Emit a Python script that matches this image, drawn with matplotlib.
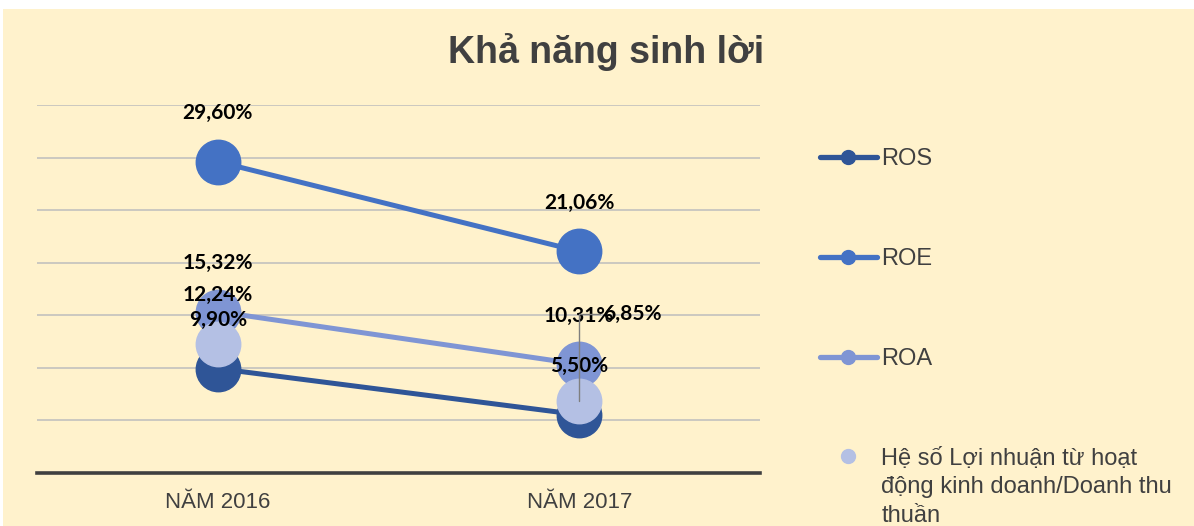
import matplotlib
matplotlib.use("Agg")
import matplotlib.pyplot as plt
from matplotlib.lines import Line2D
from matplotlib.patches import Rectangle

categories = ["NĂM 2016", "NĂM 2017"]
ros = [9.90, 5.50]
roe = [29.60, 21.06]
roa = [15.32, 10.31]
he_so = [12.24, 6.85]
series_names = ["ROS", "ROE", "ROA",
                "Hệ số Lợi nhuận từ hoạt\nđộng kinh doanh/Doanh thu\nthuần"]
title = "Khả năng sinh lời"

c_ros = "#2F5597"
c_roe = "#4472C4"
c_roa = "#7F95D4"
c_hs = "#B4C0E4"
bg = "#FFF2CC"
txt = "#404040"

W, H = 1194, 526
fig = plt.figure(figsize=(W / 100, H / 100), dpi=100, facecolor="white")
fig.patches.append(Rectangle((3 / W, 0), 1 - 3 / W, 1 - 9 / H, transform=fig.transFigure,
                             facecolor=bg, edgecolor="none", zorder=-10))

ax = fig.add_axes([37 / W, (H - 472.5) / H, (760 - 37) / W, (472.5 - 105) / H])
ax.set_facecolor("none")
x = list(range(len(categories)))

lw = 3.6
ms = 32
ax.plot(x, ros, color=c_ros, lw=lw, marker="o", ms=ms, zorder=3, solid_capstyle="round")
ax.plot(x, roe, color=c_roe, lw=lw, marker="o", ms=ms, zorder=3, solid_capstyle="round")
ax.plot(x, roa, color=c_roa, lw=lw, marker="o", ms=ms, zorder=3, solid_capstyle="round")
ax.plot(x, he_so, color=c_hs, lw=0, marker="o", ms=ms, zorder=4, linestyle="none")

ax.set_xlim(-0.5, 1.5)
ax.set_ylim(0, 35)
ax.set_yticks(range(0, 36, 5))
ax.set_yticklabels([])
ax.tick_params(axis="y", length=0)
ax.grid(axis="y", color="#BDBDBD", lw=1.1, zorder=0)
ax.set_axisbelow(True)
ax.set_xticks(x)
ax.set_xticklabels(categories, fontsize=16, color=txt, family="Liberation Sans")
ax.tick_params(axis="x", length=0, pad=14)
for s in ["top", "right", "left"]:
    ax.spines[s].set_visible(False)
ax.spines["bottom"].set_color(txt)
ax.spines["bottom"].set_linewidth(2.6)
ax.spines["bottom"].set_zorder(2)

def fmt(v):
    return f"{v:.2f}%".replace(".", ",")

lab_kw = dict(fontsize=15, fontweight="bold", family=["Lato", "DejaVu Sans"],
              color="black", zorder=6)
for series in (ros, roe, roa):
    for xi, v in zip(x, series):
        ax.annotate(fmt(v), (xi, v), xytext=(0, 35), textcoords="offset points",
                    ha="center", va="center", **lab_kw)
ax.annotate(fmt(he_so[0]), (x[0], he_so[0]), xytext=(0, 35), textcoords="offset points",
            ha="center", va="center", **lab_kw)
ax.annotate(fmt(he_so[1]), (x[1], he_so[1]), xytext=(17, 62), textcoords="offset points",
            ha="left", va="center",
            arrowprops=dict(arrowstyle="-", color="#7F7F7F", lw=1.0,
                            shrinkA=0, shrinkB=0, relpos=(0, 0.5),
                            connectionstyle="angle,angleA=0,angleB=90,rad=0"),
            **lab_kw)

fig.text(606 / W, 1 - 52 / H, title, ha="center", va="center", fontsize=27,
         fontweight="bold", color=txt, family="Liberation Sans")

handles = [
    Line2D([], [], color=c_ros, lw=3.8, marker="o", ms=10, solid_capstyle="round"),
    Line2D([], [], color=c_roe, lw=3.8, marker="o", ms=10, solid_capstyle="round"),
    Line2D([], [], color=c_roa, lw=3.8, marker="o", ms=10, solid_capstyle="round"),
    Line2D([], [], color=c_hs, lw=0, marker="o", ms=10, linestyle="none"),
]
name_lines = series_names[3].split("\n")
leg = fig.legend(handles, series_names[:3] + [name_lines[0]], loc="upper left",
                 bbox_to_anchor=(820 / W, 1 - 148 / H), frameon=False,
                 prop=dict(family="Liberation Sans", size=17),
                 handlelength=2.4, handletextpad=0.2, labelspacing=3.3,
                 borderpad=0, borderaxespad=0, labelcolor=txt)

fig.canvas.draw()
t0 = leg.get_texts()[3]
bb = t0.get_window_extent()
base = t0.get_transform().transform(t0.get_position())[1] if False else None
for i, line in enumerate(name_lines[1:], start=1):
    fig.text(bb.x0 / W, (bb.y0 - 28.5 * i) / H, line, ha="left", va="bottom",
             fontsize=17, family="Liberation Sans", color=txt)

fig.savefig("out.png", dpi=100, facecolor=fig.get_facecolor())
